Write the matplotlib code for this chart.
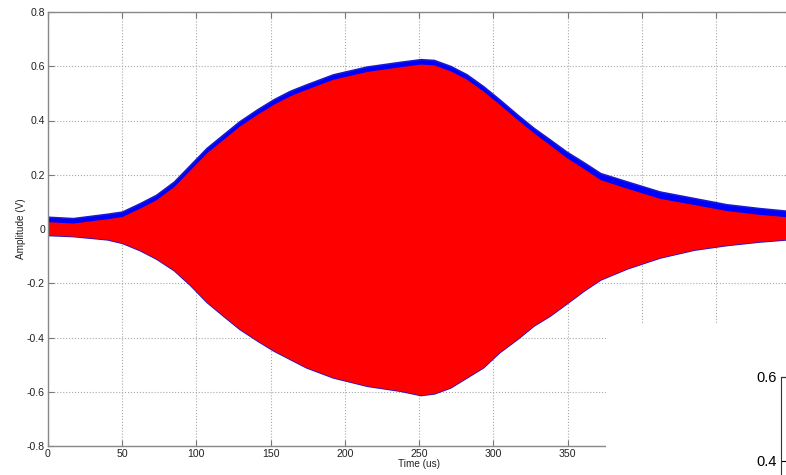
import numpy as np
import matplotlib.pyplot as plt
from matplotlib.patches import Rectangle

plt.rcParams['font.family'] = ['Liberation Sans', 'DejaVu Sans']

# envelope of the two records (time in us, volts)
t_us = [0, 17, 40, 50, 62, 73, 85, 96, 107, 118, 129, 141, 152, 163, 174,
        192, 215, 237, 251, 260, 271, 282, 293, 304, 316, 327, 338, 349,
        361, 372, 390, 412, 435, 457, 479, 500]
blue_top = [0.045, 0.040, 0.056, 0.064, 0.095, 0.126, 0.175, 0.237, 0.299,
            0.348, 0.397, 0.441, 0.478, 0.509, 0.533, 0.570, 0.599, 0.616,
            0.626, 0.623, 0.601, 0.570, 0.527, 0.478, 0.422, 0.373, 0.330,
            0.286, 0.245, 0.206, 0.175, 0.138, 0.114, 0.091, 0.077, 0.066]
red_top = [0.027, 0.022, 0.038, 0.046, 0.077, 0.108, 0.157, 0.219, 0.281,
           0.330, 0.379, 0.423, 0.460, 0.491, 0.515, 0.552, 0.581, 0.598,
           0.608, 0.605, 0.583, 0.552, 0.509, 0.460, 0.404, 0.355, 0.310,
           0.264, 0.222, 0.182, 0.150, 0.113, 0.090, 0.068, 0.054, 0.044]
red_bottom = [-0.022, -0.026, -0.038, -0.051, -0.078, -0.109, -0.152, -0.207,
              -0.269, -0.319, -0.368, -0.411, -0.448, -0.479, -0.510, -0.547,
              -0.578, -0.596, -0.612, -0.606, -0.584, -0.547, -0.510, -0.454,
              -0.405, -0.356, -0.319, -0.275, -0.226, -0.186, -0.145, -0.105,
              -0.076, -0.059, -0.046, -0.037]

x_ticks = [0, 50, 100, 150, 200, 250, 300, 350, 400, 450, 500]
# labels past 350 sit under the white patch in the original
x_ticklabels = ['0', '50', '100', '150', '200', '250', '300', '350', '', '', '']
y_ticks = [-0.8, -0.6, -0.4, -0.2, 0, 0.2, 0.4, 0.6, 0.8]
y_ticklabels = ['-0.8', '-0.6', '-0.4', '-0.2', '0', '0.2', '0.4', '0.6', '0.8']
inset_ticks = [0.4, 0.6]

W, H = 786, 475
fig = plt.figure(figsize=(W / 100, H / 100), dpi=100)
fig.patch.set_facecolor('white')

ax = fig.add_axes([47.7 / W, 1 - 446 / H, (790.5 - 47.7) / W, (446 - 12) / H])
ax.fill_between(t_us, blue_top, red_bottom, color='#0000ff', lw=1.2,
                edgecolor='#1a1ad0')
ax.fill_between(t_us, red_top, red_bottom, color='#ff0000', lw=0)

ax.set_xlim(0, 500)
ax.set_ylim(-0.8, 0.8)
ax.set_xticks(x_ticks)
ax.set_xticklabels(x_ticklabels)
ax.set_yticks(y_ticks)
ax.set_yticklabels(y_ticklabels)
ax.grid(True, linestyle=':', color='#a8a8a8', linewidth=0.8)
ax.set_axisbelow(True)
ax.tick_params(direction='in', length=4.3, width=0.8, color='#777777',
               labelsize=7.6, labelcolor='#222222', top=True, right=True, pad=2)
for s in ax.spines.values():
    s.set_color('#888888')
    s.set_linewidth(1.0)
ax.set_xlabel('Time (us)', fontsize=7.2, color='#222222', labelpad=0)
ax.set_ylabel('Amplitude (V)', fontsize=7.2, color='#222222', labelpad=1)

# white patch from a neighbouring figure covering the lower right corner
fig.patches.append(Rectangle((606 / W, 0), 1 - 606 / W, (H - 323) / H,
                             transform=fig.transFigure, facecolor='white',
                             edgecolor='none', zorder=5))

ax2 = fig.add_axes([781 / W, 1 - 545 / H, 0.3, 168 / H], zorder=6)
ax2.set_ylim(0.2, 0.6)
ax2.set_yticks(inset_ticks)
ax2.set_xticks([])
ax2.tick_params(direction='in', length=4, width=0.8, labelsize=10.5, pad=3)
for s in ax2.spines.values():
    s.set_color('#333333')
    s.set_linewidth(0.8)

fig.savefig('out.png', dpi=100)
